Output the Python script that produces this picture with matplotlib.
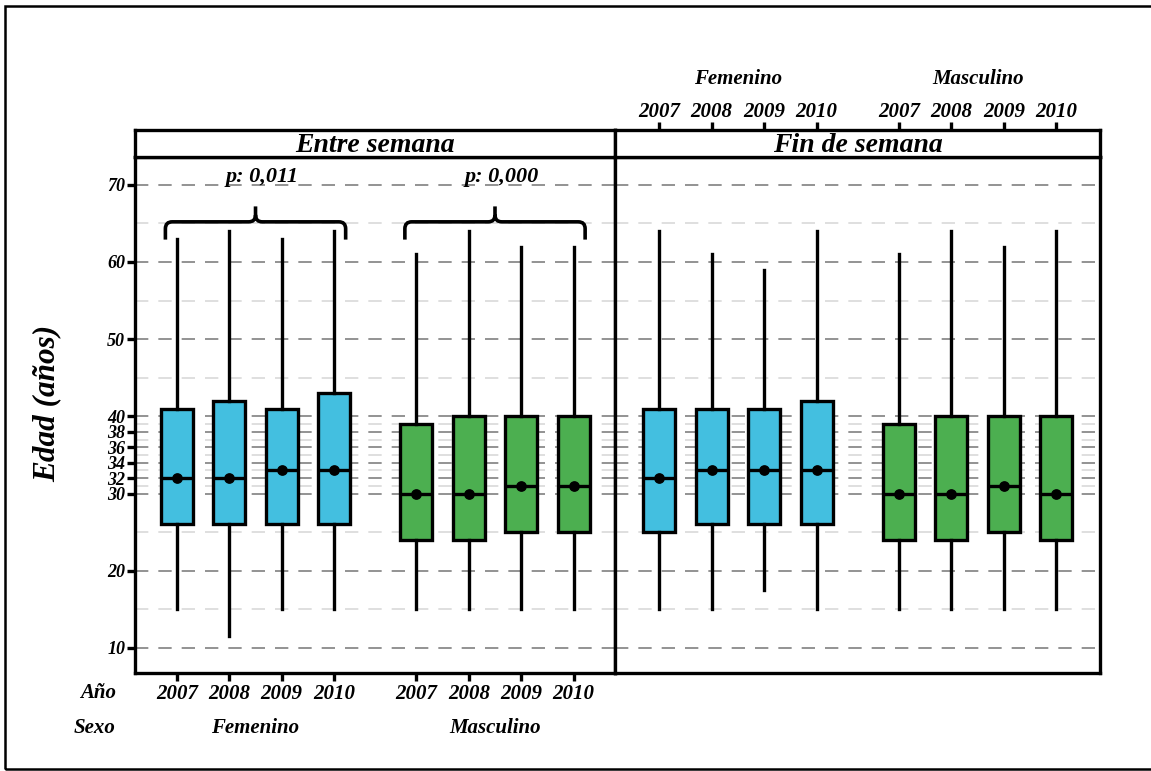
import numpy as np
import matplotlib.pyplot as plt
from matplotlib.path import Path
from matplotlib.patches import PathPatch, Rectangle

plt.rcParams['font.family'] = ['Liberation Serif', 'DejaVu Serif']
plt.rcParams['font.weight'] = 'bold'
plt.rcParams['font.style'] = 'italic'

# data: whisker low, q1, median, q3, whisker high
years = ['2007', '2008', '2009', '2010']
sexes = ['Femenino', 'Masculino']
panels = ['Entre semana', 'Fin de semana']
p_values = ['p: 0,011', 'p: 0,000']

entre_fem_low = [15, 11.5, 15, 15]
entre_fem_q1 = [26, 26, 26, 26]
entre_fem_med = [32, 32, 33, 33]
entre_fem_q3 = [41, 42, 41, 43]
entre_fem_high = [63, 64, 63, 64]

entre_mas_low = [15, 15, 15, 15]
entre_mas_q1 = [24, 24, 25, 25]
entre_mas_med = [30, 30, 31, 31]
entre_mas_q3 = [39, 40, 40, 40]
entre_mas_high = [61, 64, 62, 62]

fin_fem_low = [15, 15, 17.5, 15]
fin_fem_q1 = [25, 26, 26, 26]
fin_fem_med = [32, 33, 33, 33]
fin_fem_q3 = [41, 41, 41, 42]
fin_fem_high = [64, 61, 59, 64]

fin_mas_low = [15, 15, 15, 15]
fin_mas_q1 = [24, 24, 25, 24]
fin_mas_med = [30, 30, 31, 30]
fin_mas_q3 = [39, 40, 40, 40]
fin_mas_high = [61, 64, 62, 64]

colors = {'Femenino': '#43BFE0', 'Masculino': '#4CAF50'}

major_grid = [10, 20, 30, 32, 34, 36, 38, 40, 50, 60, 70]
minor_grid = [15, 25, 31, 33, 35, 37, 39, 45, 55, 65]
ytick_vals = [10, 20, 30, 32, 34, 36, 38, 40, 50, 60, 70]

W, H = 1151, 771
fig = plt.figure(figsize=(W / 100, H / 100), dpi=100)


def fx(px):
    return px / W


def fy(py):
    return 1 - py / H


# panel geometry in pixels
top_plot, bot_plot, top_strip = 157, 673, 130
panel_px = [(135, 615), (615, 1100)]
xlims = [(0.2, 9.36), (0.16, 9.4)]
gap = 1.57
pos_f = np.arange(1, 5)
pos_m = np.array([1, 2, 3, 4]) + 3 + gap
all_pos = np.concatenate([pos_f, pos_m])

stats = [
    [(entre_fem_low, entre_fem_q1, entre_fem_med, entre_fem_q3, entre_fem_high),
     (entre_mas_low, entre_mas_q1, entre_mas_med, entre_mas_q3, entre_mas_high)],
    [(fin_fem_low, fin_fem_q1, fin_fem_med, fin_fem_q3, fin_fem_high),
     (fin_mas_low, fin_mas_q1, fin_mas_med, fin_mas_q3, fin_mas_high)],
]

LW = 2.4
axes = []
for i, (x0, x1) in enumerate(panel_px):
    ax = fig.add_axes([fx(x0), fy(bot_plot), fx(x1 - x0), (bot_plot - top_plot) / H])
    ax.set_xlim(*xlims[i])
    ax.set_ylim(6.76, 73.6)
    for v in minor_grid:
        ax.axhline(v, color='#d9d9d9', lw=1.2, dashes=(8, 6), zorder=0)
    for v in major_grid:
        ax.axhline(v, color='#808080', lw=1.2, dashes=(8, 6), zorder=0)

    for j, sex in enumerate(sexes):
        low, q1, med, q3, high = stats[i][j]
        pos = pos_f if j == 0 else pos_m
        bxp = []
        for k in range(4):
            bxp.append(dict(whislo=low[k], q1=q1[k], med=med[k], q3=q3[k],
                            whishi=high[k], fliers=[], label=years[k]))
        ax.bxp(bxp, positions=pos, widths=0.61, patch_artist=True,
               showcaps=False, showfliers=False,
               boxprops=dict(facecolor=colors[sex], edgecolor='black', linewidth=LW),
               whiskerprops=dict(color='black', linewidth=LW),
               medianprops=dict(color='black', linewidth=LW), zorder=3)
        ax.scatter(pos, med, s=45, color='black', zorder=5)

    for s in ax.spines.values():
        s.set_linewidth(LW)
    ax.tick_params(axis='both', width=LW, length=6)
    if i == 0:
        ax.set_yticks(ytick_vals)
        ax.set_yticklabels([str(v) for v in ytick_vals], fontsize=13)
        ax.tick_params(axis='y', pad=1)
        ax.set_xticks(all_pos)
        ax.set_xticklabels(years * 2, fontsize=15)
        ax.tick_params(axis='x', pad=2)
    else:
        ax.set_yticks([])
        ax.set_xticks([])
    axes.append(ax)

    # strip
    sax = fig.add_axes([fx(x0), fy(top_plot), fx(x1 - x0), (top_plot - top_strip) / H])
    sax.set_xlim(*xlims[i])
    sax.set_ylim(0, 1)
    sax.set_yticks([])
    for s in sax.spines.values():
        s.set_linewidth(LW)
    sax.text(0.5, 0.42, panels[i], transform=sax.transAxes, ha='center', va='center',
             fontsize=20)
    if i == 1:
        sax.xaxis.tick_top()
        sax.set_xticks(all_pos)
        sax.set_xticklabels(years * 2, fontsize=15)
        sax.tick_params(axis='x', width=LW, length=6, pad=0)
    else:
        sax.set_xticks([])


def brace(ax, xa, xb, y_end, y_bar, y_tip, rx=0.13, ry=0.9):
    c = (xa + xb) / 2
    verts = [
        (xa, y_end), (xa, y_bar - ry),
        (xa, y_bar), (xa + rx, y_bar),
        (c - rx, y_bar),
        (c, y_bar), (c, y_bar + ry),
        (c, y_tip),
        (c, y_bar + ry),
        (c, y_bar), (c + rx, y_bar),
        (xb - rx, y_bar),
        (xb, y_bar), (xb, y_bar - ry),
        (xb, y_end),
    ]
    codes = [Path.MOVETO, Path.LINETO,
             Path.CURVE3, Path.CURVE3,
             Path.LINETO,
             Path.CURVE3, Path.CURVE3,
             Path.LINETO,
             Path.MOVETO,
             Path.CURVE3, Path.CURVE3,
             Path.LINETO,
             Path.CURVE3, Path.CURVE3,
             Path.LINETO]
    ax.add_patch(PathPatch(Path(verts, codes), facecolor='none', edgecolor='black',
                           lw=2.6, zorder=6, capstyle='butt'))


ax0 = axes[0]
for j, pos in enumerate([pos_f, pos_m]):
    c = pos.mean()
    brace(ax0, c - 1.72, c + 1.72, 62.9, 65.2, 67.2)
    ax0.text(c + 0.12, 71.0, p_values[j], ha='center', va='center', fontsize=16)

# y label
fig.text(fx(47), fy(403), 'Edad (años)', rotation=90, ha='center', va='center',
         fontsize=22.5)

# bottom labels
fig.text(fx(116), fy(693), 'Año', ha='right', va='center', fontsize=15)
fig.text(fx(116), fy(728), 'Sexo', ha='right', va='center', fontsize=15)
ax0.text(pos_f.mean(), -0.107, sexes[0], transform=ax0.get_xaxis_transform(),
         ha='center', va='center', fontsize=15)
ax0.text(pos_m.mean(), -0.107, sexes[1], transform=ax0.get_xaxis_transform(),
         ha='center', va='center', fontsize=15)

# top labels (right panel)
ax1 = axes[1]
ax1.text(pos_f.mean(), 1.152, sexes[0], transform=ax1.get_xaxis_transform(),
         ha='center', va='center', fontsize=15)
ax1.text(pos_m.mean(), 1.152, sexes[1], transform=ax1.get_xaxis_transform(),
         ha='center', va='center', fontsize=15)

# outer frame
fig.add_artist(Rectangle((fx(5), fy(769)), fx(1160), (769 - 6) / H, fill=False,
                         edgecolor='black', lw=1.8, transform=fig.transFigure))

fig.savefig('out.png', dpi=100)
